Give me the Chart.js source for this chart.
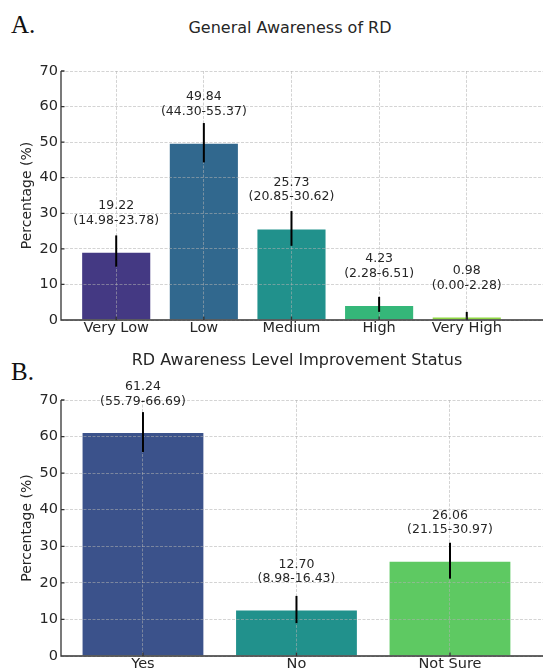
<!DOCTYPE html>
<html>
<head>
<meta charset="utf-8">
<script src="https://cdn.jsdelivr.net/npm/chart.js@4.4.0/dist/chart.umd.min.js"></script>
<style>
  html, body { margin: 0; padding: 0; background: #fff; overflow: hidden; }
  body { width: 543px; height: 671px; position: relative; }
  canvas { position: absolute; left: 0; }
  .panel { position: absolute; font-family: 'Liberation Serif', 'DejaVu Serif', serif; font-size: 25px; color: #111; line-height: normal; }
  .ttl { position: absolute; left: 0; text-align: center; font-family: 'DejaVu Sans', sans-serif; font-size: 16px; color: #262626; line-height: normal; }
</style>
</head>
<body>
<div class="panel" style="left:11px; top:11px;">A.</div>
<div class="ttl" style="width:580px; top:18px;">General Awareness of RD</div>
<canvas id="chartA" width="543" height="345" style="top:0;"></canvas>

<div class="panel" style="left:11px; top:358px;">B.</div>
<div class="ttl" style="width:594px; top:350px;">RD Awareness Level Improvement Status</div>
<canvas id="chartB" width="543" height="340" style="top:340px;"></canvas>

<script>
// Panel A: general awareness
const awarenessLevels = ["Very Low", "Low", "Medium", "High", "Very High"];
const awarenessPct = [19.22, 49.84, 25.73, 4.23, 0.98];
const awarenessLow = [14.98, 44.30, 20.85, 2.28, 0.00];
const awarenessHigh = [23.78, 55.37, 30.62, 6.51, 2.28];
const awarenessColors = ["#443983", "#31688e", "#21918c", "#35b779", "#8fd744"];

// Panel B: improvement status
const improveLevels = ["Yes", "No", "Not Sure"];
const improvePct = [61.24, 12.70, 26.06];
const improveLow = [55.79, 8.98, 21.15];
const improveHigh = [66.69, 16.43, 30.97];
const improveColors = ["#3b528b", "#21918c", "#5ec962"];

const yTicks = [0, 10, 20, 30, 40, 50, 60, 70];

const FONT = "'DejaVu Sans', sans-serif";
const GRID = 'rgba(176,176,176,0.55)';
const SPINE = '#333';

// left/bottom spines with short inward ticks (grid lines are dashed, spines solid)
const spines = {
    id: 'spines',
    afterDraw(chart) {
        const ctx = chart.ctx;
        const { left, right, top, bottom } = chart.chartArea;
        const xs = chart.scales.x, ys = chart.scales.y;
        ctx.save();
        ctx.strokeStyle = SPINE;
        ctx.lineWidth = 1.3;
        ctx.setLineDash([]);
        ctx.beginPath();
        ctx.moveTo(left, top);
        ctx.lineTo(left, bottom);
        ctx.lineTo(right, bottom);
        ys.ticks.forEach(t => {
            const y = ys.getPixelForValue(t.value);
            ctx.moveTo(left, y);
            ctx.lineTo(left + 3.5, y);
        });
        xs.ticks.forEach(t => {
            const x = xs.getPixelForValue(t.value);
            ctx.moveTo(x, bottom);
            ctx.lineTo(x, bottom - 3.5);
        });
        ctx.stroke();
        ctx.restore();
    }
};

// error bars + "value (lo-hi)" labels
const errorBars = {
    id: 'errorBars',
    afterDraw(chart, args, opts) {
        const ctx = chart.ctx;
        const xs = chart.scales.x, ys = chart.scales.y;
        ctx.save();
        opts.values.forEach((v, i) => {
            const x = xs.getPixelForValue(i);
            ctx.strokeStyle = '#000';
            ctx.lineWidth = 2;
            ctx.setLineDash([]);
            ctx.beginPath();
            ctx.moveTo(x, ys.getPixelForValue(opts.low[i]));
            ctx.lineTo(x, ys.getPixelForValue(opts.high[i]));
            ctx.stroke();

            const base = ys.getPixelForValue(v) - opts.gap;
            ctx.fillStyle = '#262626';
            ctx.font = "12.5px " + FONT;
            ctx.textAlign = 'center';
            ctx.textBaseline = 'alphabetic';
            ctx.fillText('(' + opts.low[i].toFixed(2) + '-' + opts.high[i].toFixed(2) + ')', x, base);
            ctx.fillText(v.toFixed(2), x, base - 14.5);
        });
        ctx.restore();
    }
};

function makeChart(id, cats, vals, lo, hi, colors, layout) {
    return new Chart(document.getElementById(id), {
        type: 'bar',
        data: {
            datasets: [{
                data: vals.map((v, i) => ({ x: i, y: v })),
                backgroundColor: colors,
                borderColor: 'rgba(255,255,255,0.3)',
                borderWidth: 1,
                barPercentage: 0.8,
                categoryPercentage: 1.0
            }]
        },
        options: {
            responsive: false,
            animation: false,
            devicePixelRatio: 1,
            layout: { padding: { top: layout.top, right: 0, left: 0, bottom: 0 } },
            plugins: {
                legend: { display: false },
                tooltip: { enabled: false },
                errorBars: { values: vals, low: lo, high: hi, gap: layout.gap }
            },
            scales: {
                x: {
                    type: 'linear',
                    offset: false,
                    min: layout.xmin,
                    max: layout.xmax,
                    afterBuildTicks: s => { s.ticks = cats.map((c, i) => ({ value: i })); },
                    afterFit: s => { s.height = layout.xh; },
                    ticks: {
                        callback: v => cats[v],
                        color: '#262626',
                        font: { family: FONT, size: 14.5 },
                        padding: 0,
                        maxRotation: 0,
                        autoSkip: false
                    },
                    grid: { offset: false, color: GRID, lineWidth: 1, drawTicks: false, z: 1 },
                    border: { display: false, dash: [3, 1.5] }
                },
                y: {
                    min: 0,
                    max: 70,
                    afterBuildTicks: s => { s.ticks = yTicks.map(v => ({ value: v })); },
                    afterFit: s => { s.width = 61; },
                    ticks: {
                        color: '#262626',
                        font: { family: FONT, size: 14.5 },
                        padding: 3
                    },
                    title: {
                        display: true,
                        text: 'Percentage (%)',
                        color: '#262626',
                        font: { family: FONT, size: 14 },
                        padding: { top: 19, bottom: 0 }
                    },
                    grid: { color: GRID, lineWidth: 1, drawTicks: false, z: 1 },
                    border: { display: false, dash: [3, 1.5] }
                }
            }
        },
        plugins: [errorBars, spines]
    });
}

makeChart('chartA', awarenessLevels, awarenessPct, awarenessLow, awarenessHigh, awarenessColors,
    { top: 71, xh: 25, xmin: -0.63, xmax: 4.87, gap: 28 });
makeChart('chartB', improveLevels, improvePct, improveLow, improveHigh, improveColors,
    { top: 60, xh: 24, xmin: -0.534, xmax: 2.606, gap: 27.5 });
</script>
</body>
</html>
